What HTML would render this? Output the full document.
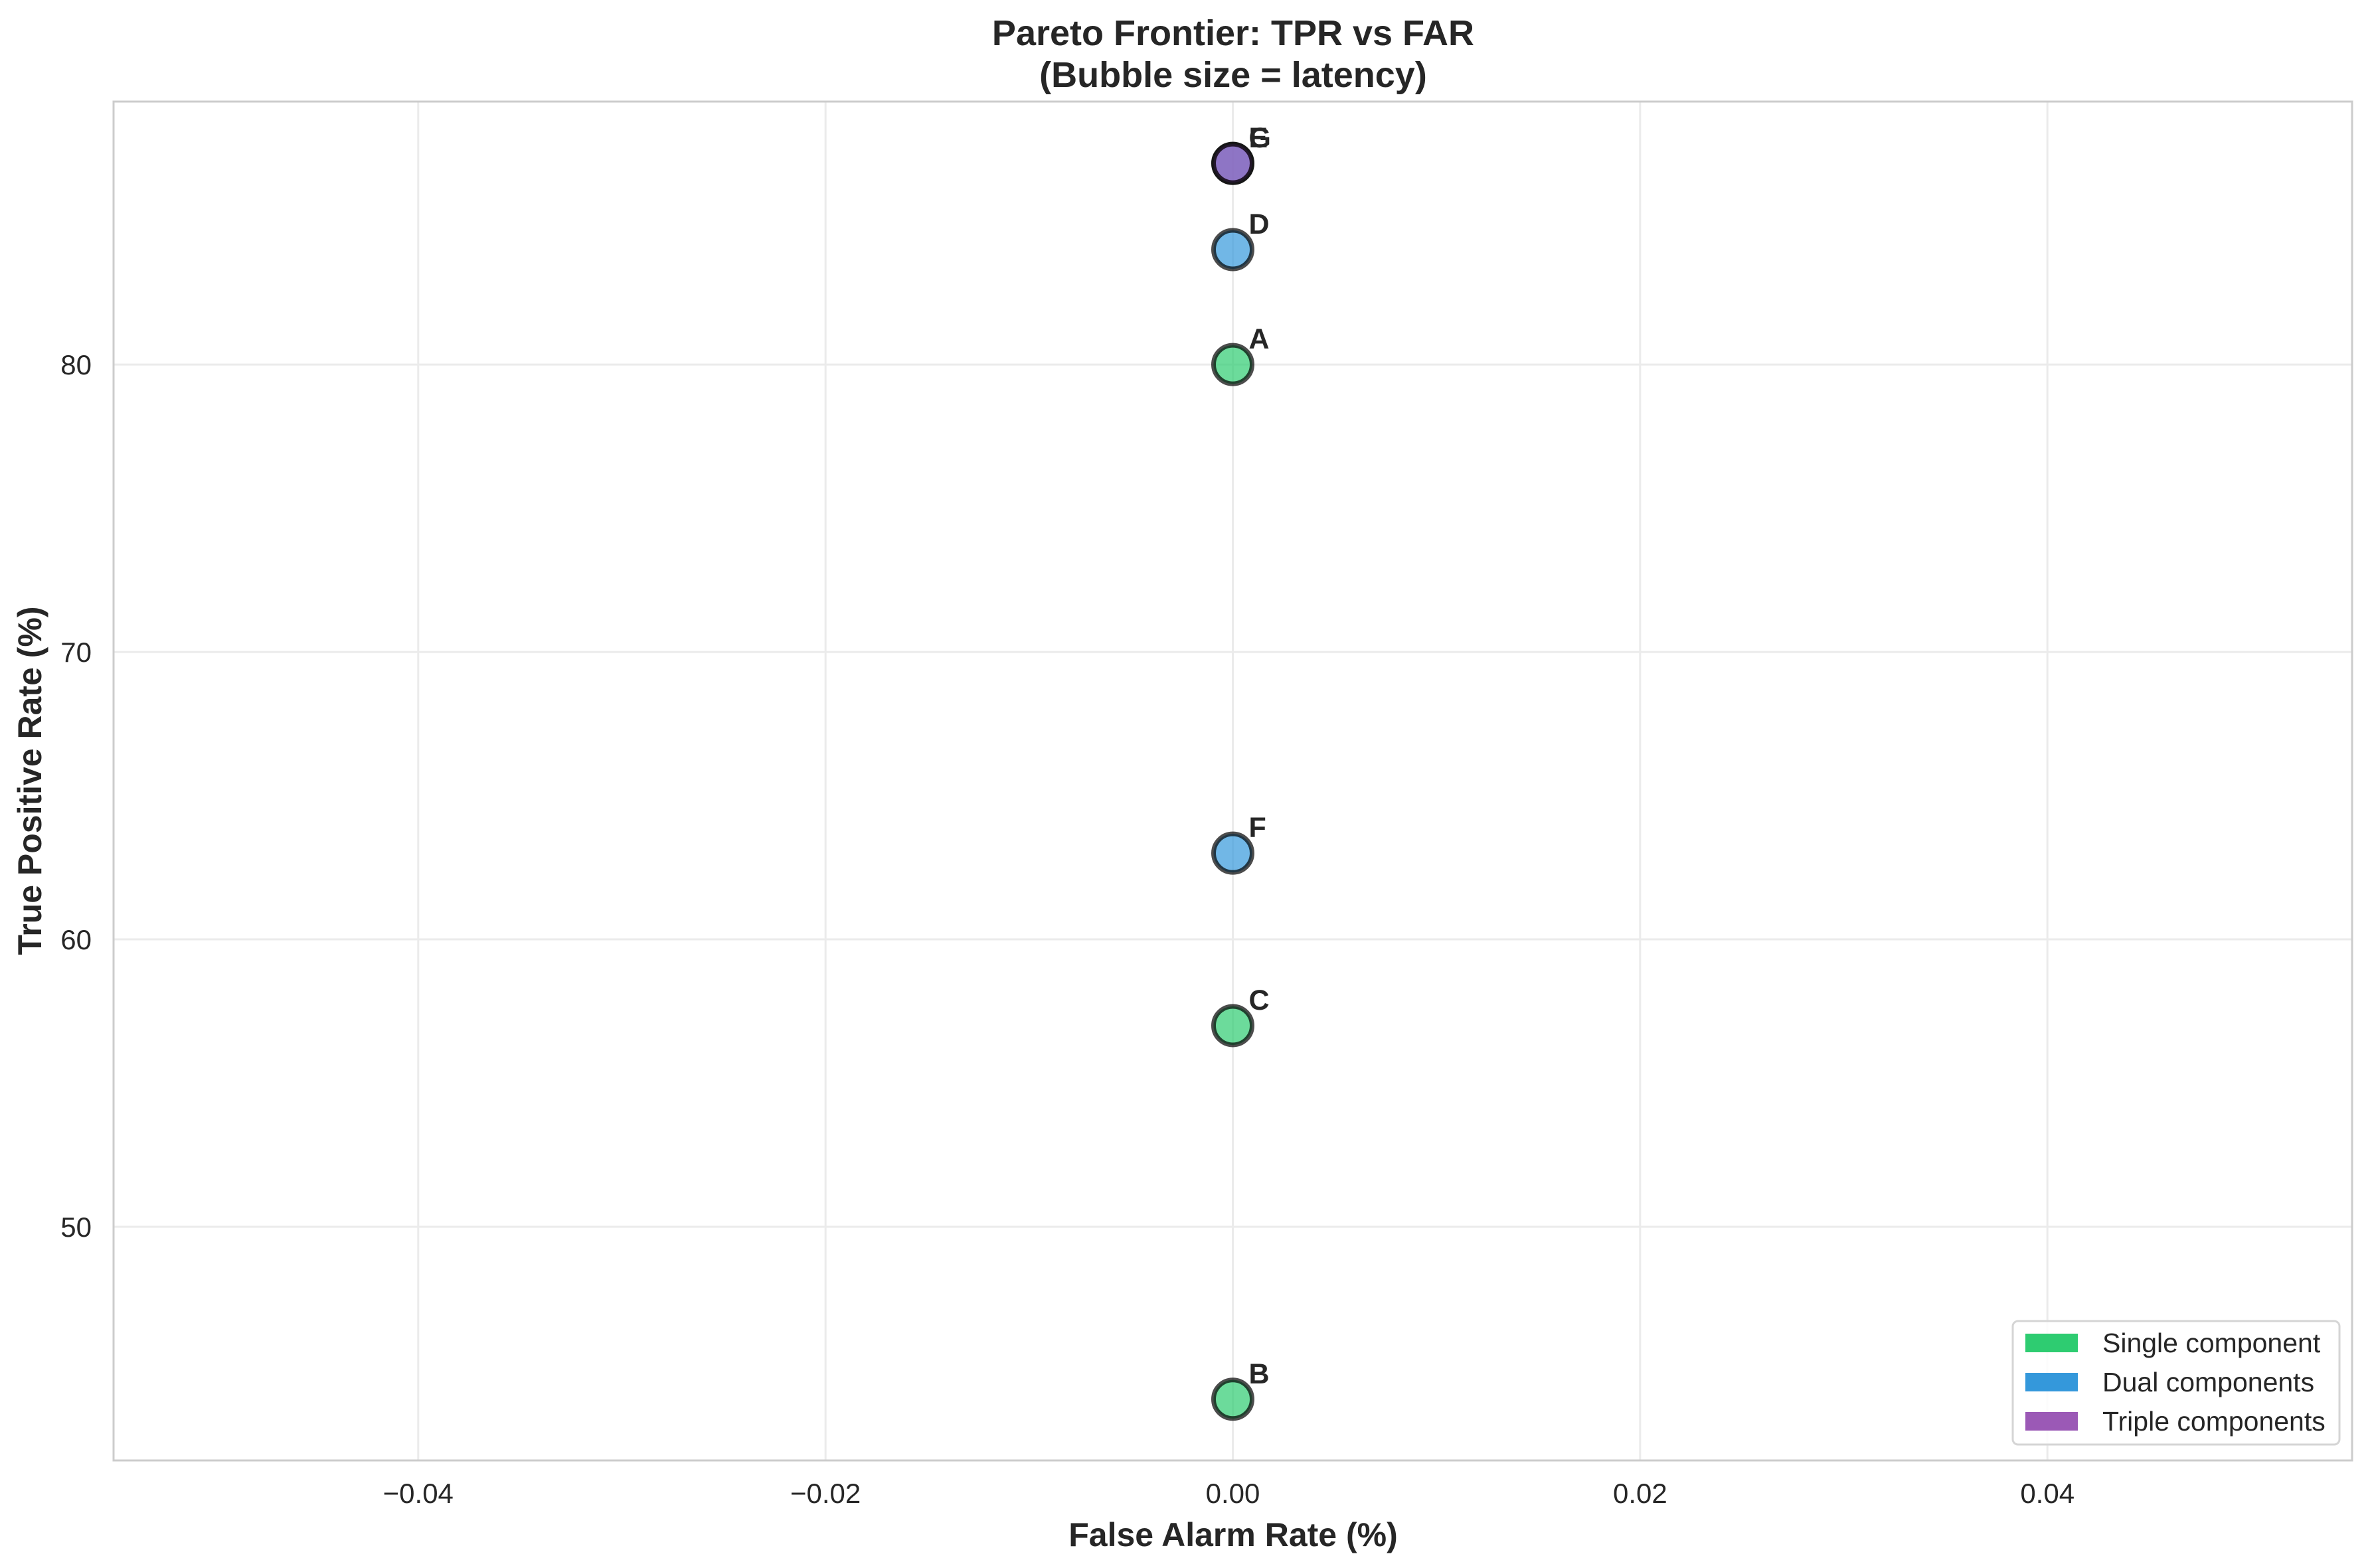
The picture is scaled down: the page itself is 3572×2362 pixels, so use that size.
<!DOCTYPE html>
<html><head><meta charset="utf-8"><style>
html,body{margin:0;padding:0;background:#fff;}
svg{display:block;font-family:"Liberation Sans",Arial,sans-serif;}
</style></head><body>
<svg id="chart" width="3572" height="2362" viewBox="0 0 3572 2362" xmlns="http://www.w3.org/2000/svg">
<rect x="0" y="0" width="3572" height="2362" fill="#fff"/>
<g id="grid"></g>
<g id="points"></g>
<rect x="171" y="153" width="3371" height="2047" fill="none" stroke="#cccccc" stroke-width="3"/>
<g id="ticks"></g>
<text x="1857" y="68" text-anchor="middle" font-size="54" font-weight="bold" fill="#262626">Pareto Frontier: TPR vs FAR</text>
<text x="1857" y="131" text-anchor="middle" font-size="54" font-weight="bold" fill="#262626">(Bubble size = latency)</text>
<text x="1857" y="2329" text-anchor="middle" font-size="50" font-weight="bold" fill="#262626">False Alarm Rate (%)</text>
<text x="0" y="0" transform="translate(62,1176) rotate(-90)" text-anchor="middle" font-size="50" font-weight="bold" fill="#262626">True Positive Rate (%)</text>
<g>
<rect x="3031" y="1990" width="492" height="186" rx="8" fill="#fff" fill-opacity="0.85" stroke="#d5d5d5" stroke-width="3"/>
<rect x="3050" y="2009" width="79" height="28" fill="#2ecc71"/>
<text x="3166" y="2037" font-size="41" fill="#262626">Single component</text>
<rect x="3050" y="2068" width="79" height="28" fill="#3498db"/>
<text x="3166" y="2096" font-size="41" fill="#262626">Dual components</text>
<rect x="3050" y="2127" width="79" height="28" fill="#9b59b6"/>
<text x="3166" y="2155" font-size="41" fill="#262626">Triple components</text>
</g>
</svg>
<script>
const labels = ["A","B","C","D","E","F","G"];
const far = [0,0,0,0,0,0,0];
const tpr = [80,44,57,84,87,63,87];
const groups = ["single","single","single","dual","dual","dual","triple"];
const xTicks = [-0.04,-0.02,0,0.02,0.04];
const xTickLabels = ["\u22120.04","\u22120.02","0.00","0.02","0.04"];
const yTicks = [50,60,70,80];
const yTickLabels = ["50","60","70","80"];

const colors = {single:"#2ecc71", dual:"#3498db", triple:"#9b59b6"};
const L=171,R=3542,T=153,B=2200;
const xMin=-0.05496,xMax=0.05496,yMin=41.87,yMax=89.15;
function xs(v){return L+(v-xMin)/(xMax-xMin)*(R-L);}
function ys(v){return B-(v-yMin)/(yMax-yMin)*(B-T);}
const NS="http://www.w3.org/2000/svg";
const grid=document.getElementById('grid');
const ticks=document.getElementById('ticks');
const pts=document.getElementById('points');
xTicks.forEach((v,i)=>{
  const l=document.createElementNS(NS,'line');
  
  
  l.setAttribute('x1',xs(v));l.setAttribute('x2',xs(v));l.setAttribute('y1',T);l.setAttribute('y2',B);
  l.setAttribute('stroke','#ebebeb');l.setAttribute('stroke-width','3');
  grid.appendChild(l);
  const t=document.createElementNS(NS,'text');
  
  
  t.setAttribute('x',xs(v));t.setAttribute('y',2264);t.setAttribute('text-anchor','middle');
  t.setAttribute('font-size','42');t.setAttribute('fill','#262626');
  t.textContent=xTickLabels[i];ticks.appendChild(t);
});
yTicks.forEach((v,i)=>{
  const l=document.createElementNS(NS,'line');
  
  
  l.setAttribute('x1',L);l.setAttribute('x2',R);l.setAttribute('y1',ys(v));l.setAttribute('y2',ys(v));
  l.setAttribute('stroke','#ebebeb');l.setAttribute('stroke-width','3');
  grid.appendChild(l);
  const t=document.createElementNS(NS,'text');
  
  
  t.setAttribute('x',138);t.setAttribute('y',ys(v)+15);t.setAttribute('text-anchor','end');
  t.setAttribute('font-size','42');t.setAttribute('fill','#262626');
  t.textContent=yTickLabels[i];ticks.appendChild(t);
});
labels.forEach((lab,i)=>{
  const cx=xs(far[i]),cy=ys(tpr[i]);
  const c=document.createElementNS(NS,'circle');
  
  
  c.setAttribute('cx',cx);c.setAttribute('cy',cy);c.setAttribute('r',29);
  c.setAttribute('fill',colors[groups[i]]);c.setAttribute('fill-opacity','0.7');
  c.setAttribute('stroke','#000');c.setAttribute('stroke-opacity','0.7');c.setAttribute('stroke-width','7');
  pts.appendChild(c);
});
labels.forEach((lab,i)=>{
  const t=document.createElementNS(NS,'text');
  
  
  t.setAttribute('x',xs(far[i])+24);t.setAttribute('y',ys(tpr[i])-24);
  t.setAttribute('font-size','43');t.setAttribute('font-weight','bold');t.setAttribute('fill','#262626');
  t.textContent=lab;pts.appendChild(t);
});
</script>
</body></html>
